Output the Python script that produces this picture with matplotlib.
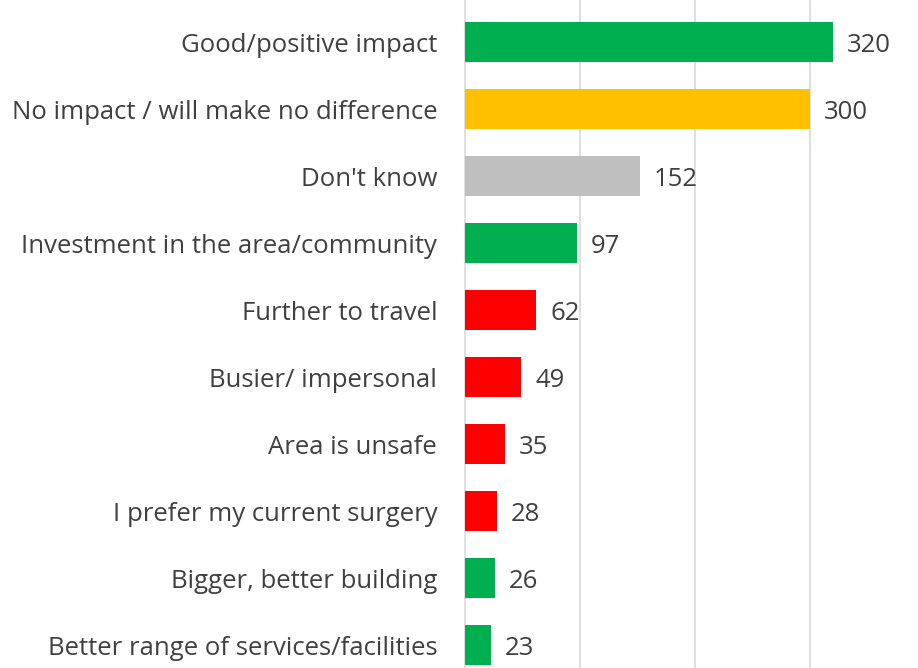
import matplotlib.pyplot as plt
import numpy as np

categories = ["Good/positive impact", "No impact / will make no difference", "Don't know",
              "Investment in the area/community", "Further to travel", "Busier/ impersonal",
              "Area is unsafe", "I prefer my current surgery", "Bigger, better building",
              "Better range of services/facilities"]
values = [320, 300, 152, 97, 62, 49, 35, 28, 26, 23]
colors = ["#00B050", "#FFC000", "#BFBFBF", "#00B050", "#FF0000", "#FF0000",
          "#FF0000", "#FF0000", "#00B050", "#00B050"]

plt.rcParams['font.family'] = ['Open Sans', 'DejaVu Sans']
text_color = "#404040"

fig = plt.figure(figsize=(9.18, 6.68), dpi=100)
ax = fig.add_axes([465 / 918, 0, 1 - 465 / 918, 1])

y = np.arange(len(categories))
ax.barh(y, values, height=0.6, color=colors, zorder=3)
for yi, v in zip(y, values):
    ax.text(v + 12, yi + 0.05, str(v), va="center", ha="left", fontsize=18.5, color=text_color)

ax.set_xlim(0, (918 - 465) / 1.15)
ax.set_ylim(9.343, -0.627)
ax.set_xticks([100, 200, 300])
ax.xaxis.grid(True, color="#D9D9D9", linewidth=1.2, zorder=0)
ax.tick_params(axis="x", length=0, labelbottom=False)
ax.tick_params(axis="y", length=0, pad=20, labelsize=18.5, labelcolor=text_color)
ax.set_yticks(y)
ax.set_yticklabels(categories)
for s in ["top", "right", "bottom"]:
    ax.spines[s].set_visible(False)
ax.spines["left"].set_color("#D9D9D9")
ax.spines["left"].set_linewidth(1.2)

fig.savefig("out.png", dpi=100)
